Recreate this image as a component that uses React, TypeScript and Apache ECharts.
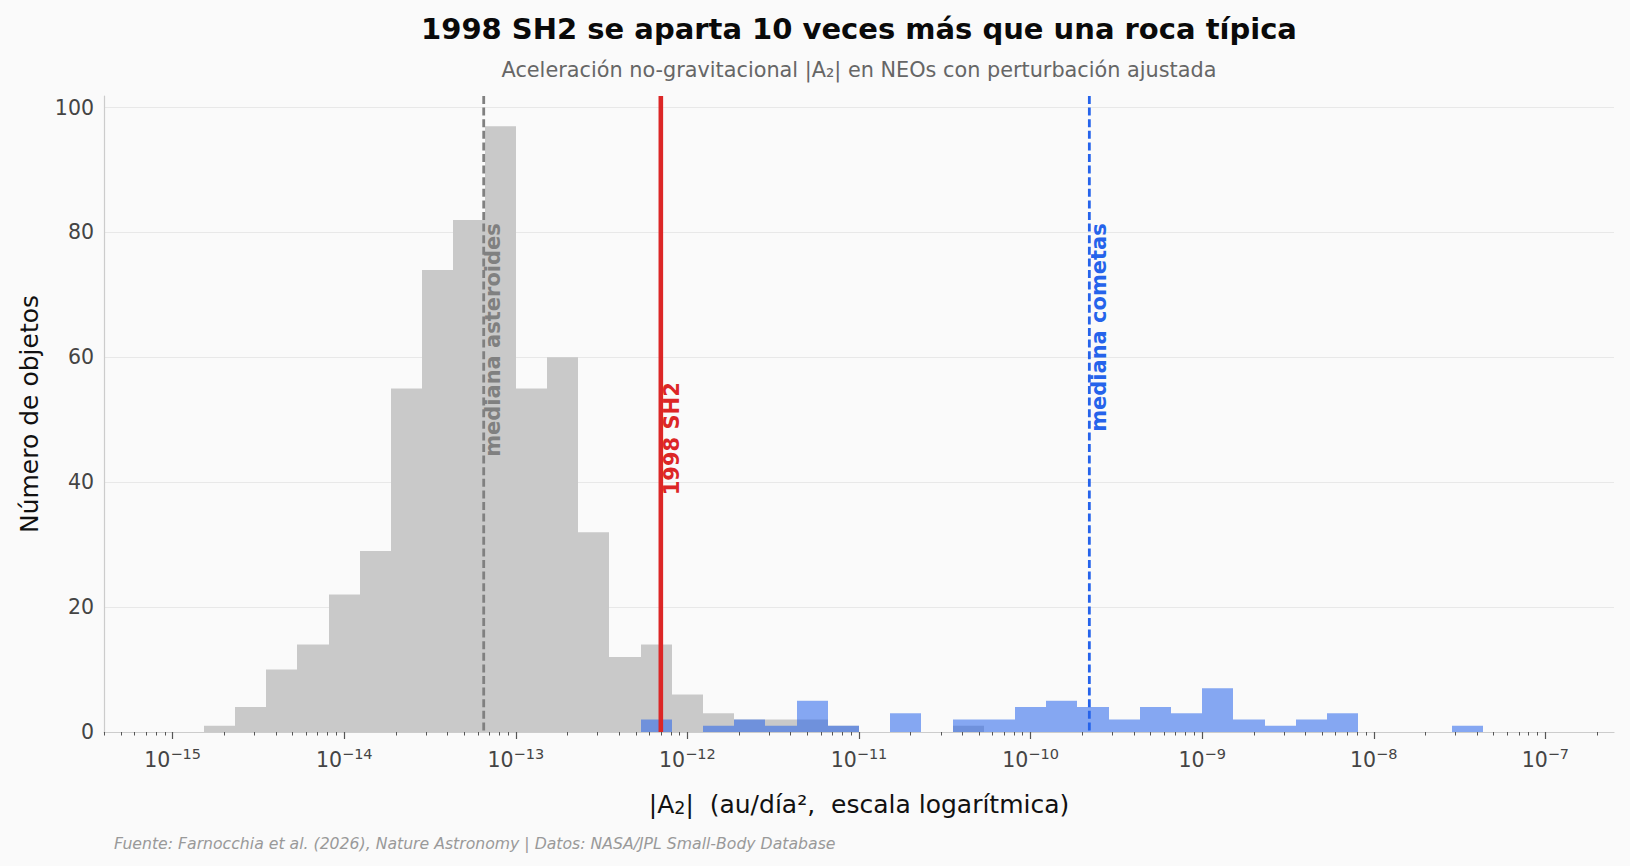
import React, { useEffect, useRef } from "react";
import * as echarts from "echarts";

// ---------- data ----------
const BIN_LOG_START = -15;
const BIN_LOG_END = -7;
const BIN_COUNT = 44;

// counts per logarithmic bin (44 bins from 1e-15 to 1e-7)
const asteroidCounts = [
  0, 1, 4, 10, 14, 22, 29, 55, 74, 82, 97, 55, 60, 32, 12, 14, 6, 3, 2, 2, 2, 1,
  0, 0, 0, 1, 0, 0, 0, 0, 0, 0, 0, 0, 0, 0, 0, 0, 0, 0, 0, 0, 0, 0,
];
const cometCounts = [
  0, 0, 0, 0, 0, 0, 0, 0, 0, 0, 0, 0, 0, 0, 0, 2, 0, 1, 2, 1, 5, 1,
  0, 3, 0, 2, 2, 4, 5, 4, 2, 4, 3, 7, 2, 1, 2, 3, 0, 0, 0, 1, 0, 0,
];

const majorTickExponents = [-15, -14, -13, -12, -11, -10, -9, -8, -7];
const yTickValues = [0, 20, 40, 60, 80, 100];

const markerLabels = ["mediana asteroides", "1998 SH2", "mediana cometas"];
const markerValues = [6.5e-14, 7.0e-13, 2.2e-10];
const markerLabelFractions = [0.8, 0.55, 0.8];

const TITLE = "1998 SH2 se aparta 10 veces más que una roca típica";
const SUBTITLE = "Aceleración no-gravitacional |A₂| en NEOs con perturbación ajustada";
const FOOTER =
  "Fuente: Farnocchia et al. (2026), Nature Astronomy | Datos: NASA/JPL Small-Body Database";
const Y_NAME = "Número de objetos";

// ---------- styles ----------
const FONT = '"DejaVu Sans", "Noto Sans", sans-serif';
const BG = "#fafafa";
const X_MIN = -15.4;
const X_MAX = -6.6;
const Y_MAX = 101.85;
const markerStyles = [
  { color: "#808080", width: 2.8, dash: [8, 3.6], dx: -1 },
  { color: "#dc2626", width: 4.6, dash: null as number[] | null, dx: 1 },
  { color: "#2563eb", width: 2.8, dash: [8, 3.6], dx: -1 },
];

const binWidth = (BIN_LOG_END - BIN_LOG_START) / BIN_COUNT;
const binEdges = Array.from({ length: BIN_COUNT + 1 }, (_, i) => BIN_LOG_START + i * binWidth);

function histData(counts: number[]) {
  return counts
    .map((c, i) => [binEdges[i], binEdges[i + 1], c])
    .filter((d) => d[2] > 0);
}

const minorTickLogs: number[] = [];
for (let e = -16; e <= -7; e++) {
  for (let k = 2; k <= 9; k++) {
    const v = e + Math.log10(k);
    if (v >= X_MIN && v <= X_MAX) minorTickLogs.push(v);
  }
}

function barRenderer(fill: string) {
  return (params: any, api: any) => {
    const p0 = api.coord([api.value(0), api.value(2)]);
    const p1 = api.coord([api.value(1), 0]);
    const x0 = Math.round(p0[0]);
    const x1 = Math.round(p1[0]);
    return {
      type: "rect",
      shape: { x: x0, y: p0[1], width: x1 - x0, height: p1[1] - p0[1] },
      style: { fill },
    };
  };
}

export default function App() {
  const ref = useRef<HTMLDivElement>(null);

  useEffect(() => {
    document.body.style.margin = "0";
    document.body.style.background = BG;
    if (!ref.current) return;
    const chart = echarts.init(ref.current, undefined, { renderer: "svg" });

    const option: any = {
      animation: false,
      backgroundColor: BG,
      textStyle: { fontFamily: FONT },
      grid: { left: 104, right: 16, top: 96, bottom: 134, containLabel: false },
      xAxis: [
        {
          type: "value",
          position: "bottom",
          min: X_MIN,
          max: X_MAX,
          axisLine: { show: true, lineStyle: { color: "#cccccc", width: 1.2 } },
          axisTick: {
            show: true,
            length: 7,
            customValues: majorTickExponents,
            lineStyle: { color: "#555555", width: 1.2 },
          },
          axisLabel: {
            show: true,
            customValues: majorTickExponents,
            margin: 14,
            formatter: (v: number) => `{b|10}{s|−${Math.abs(Math.round(v))}}`,
            rich: {
              b: { fontSize: 20.5, color: "#444444", fontFamily: FONT },
              s: { fontSize: 14.5, color: "#444444", fontFamily: FONT, padding: [0, 0, 12, 0] },
            },
          },
          splitLine: { show: false },
          name: "{t|\u007CA}{sub|2}{t|\u007C  (au/día²,  escala logarítmica)}",
          nameLocation: "middle",
          nameGap: 59,
          nameTextStyle: {
            rich: {
              t: { fontSize: 25, color: "#111111", fontFamily: FONT },
              sub: { fontSize: 17.5, color: "#111111", fontFamily: FONT, padding: [8, 0, 0, 0] },
            },
          },
        },
        {
          type: "value",
          position: "bottom",
          min: X_MIN,
          max: X_MAX,
          axisLine: { show: false },
          axisTick: {
            show: true,
            length: 3.5,
            customValues: minorTickLogs,
            lineStyle: { color: "#555555", width: 1 },
          },
          axisLabel: { show: false },
          splitLine: { show: false },
        },
      ],
      yAxis: {
        type: "value",
        min: 0,
        max: Y_MAX,
        axisLine: { show: true, lineStyle: { color: "#cccccc", width: 1.2 } },
        axisTick: { show: false, customValues: yTickValues },
        axisLabel: {
          customValues: yTickValues,
          fontSize: 20.5,
          color: "#444444",
          fontFamily: FONT,
          margin: 10,
        },
        splitLine: { show: true, lineStyle: { color: "#e8e8e8", width: 1 } },
        name: Y_NAME,
        nameLocation: "middle",
        nameGap: 62,
        nameTextStyle: { fontSize: 25, color: "#111111", fontFamily: FONT },
      },
      graphic: [
        {
          type: "text",
          style: {
            text: TITLE,
            x: 859,
            y: 29,
            align: "center",
            verticalAlign: "middle",
            font: `bold 29px ${FONT}`,
            fill: "#0a0a0a",
          },
        },
        {
          type: "text",
          style: {
            text: SUBTITLE,
            x: 859,
            y: 70,
            align: "center",
            verticalAlign: "middle",
            font: `20.8px ${FONT}`,
            fill: "#666666",
          },
        },
        {
          type: "text",
          style: {
            text: FOOTER,
            x: 114,
            y: 843,
            align: "left",
            verticalAlign: "middle",
            font: `italic 15.7px ${FONT}`,
            fill: "#999999",
          },
        },
      ],
      series: [
        {
          type: "custom",
          name: "asteroides",
          xAxisIndex: 0,
          renderItem: barRenderer("#c9c9c9"),
          data: histData(asteroidCounts),
          encode: { x: [0, 1], y: 2 },
          z: 2,
        },
        {
          type: "custom",
          name: "cometas",
          xAxisIndex: 0,
          renderItem: barRenderer("rgba(37, 99, 235, 0.55)"),
          data: histData(cometCounts),
          encode: { x: [0, 1], y: 2 },
          z: 3,
        },
        {
          type: "custom",
          name: "marcadores",
          xAxisIndex: 0,
          z: 5,
          data: markerValues.map((v, i) => [Math.log10(v), markerLabelFractions[i]]),
          encode: { x: 0, y: 1 },
          renderItem: (params: any, api: any) => {
            const i = params.dataIndex;
            const x = api.value(0);
            const top = api.coord([x, Y_MAX]);
            const bottom = api.coord([x, 0]);
            const lab = api.coord([x, api.value(1) * Y_MAX]);
            const st = markerStyles[i];
            return {
              type: "group",
              children: [
                {
                  type: "line",
                  shape: { x1: top[0], y1: top[1], x2: bottom[0], y2: bottom[1] },
                  style: {
                    stroke: st.color,
                    lineWidth: st.width,
                    lineDash: st.dash || undefined,
                  },
                },
                {
                  type: "text",
                  x: lab[0] + st.dx,
                  y: lab[1],
                  rotation: Math.PI / 2,
                  style: {
                    text: markerLabels[i],
                    fill: st.color,
                    font: `bold 21px ${FONT}`,
                    align: "right",
                    verticalAlign: "top",
                  },
                },
              ],
            };
          },
        },
      ],
    };

    chart.setOption(option);
    return () => chart.dispose();
  }, []);

  return <div ref={ref} style={{ width: 1630, height: 866, background: BG }} />;
}
